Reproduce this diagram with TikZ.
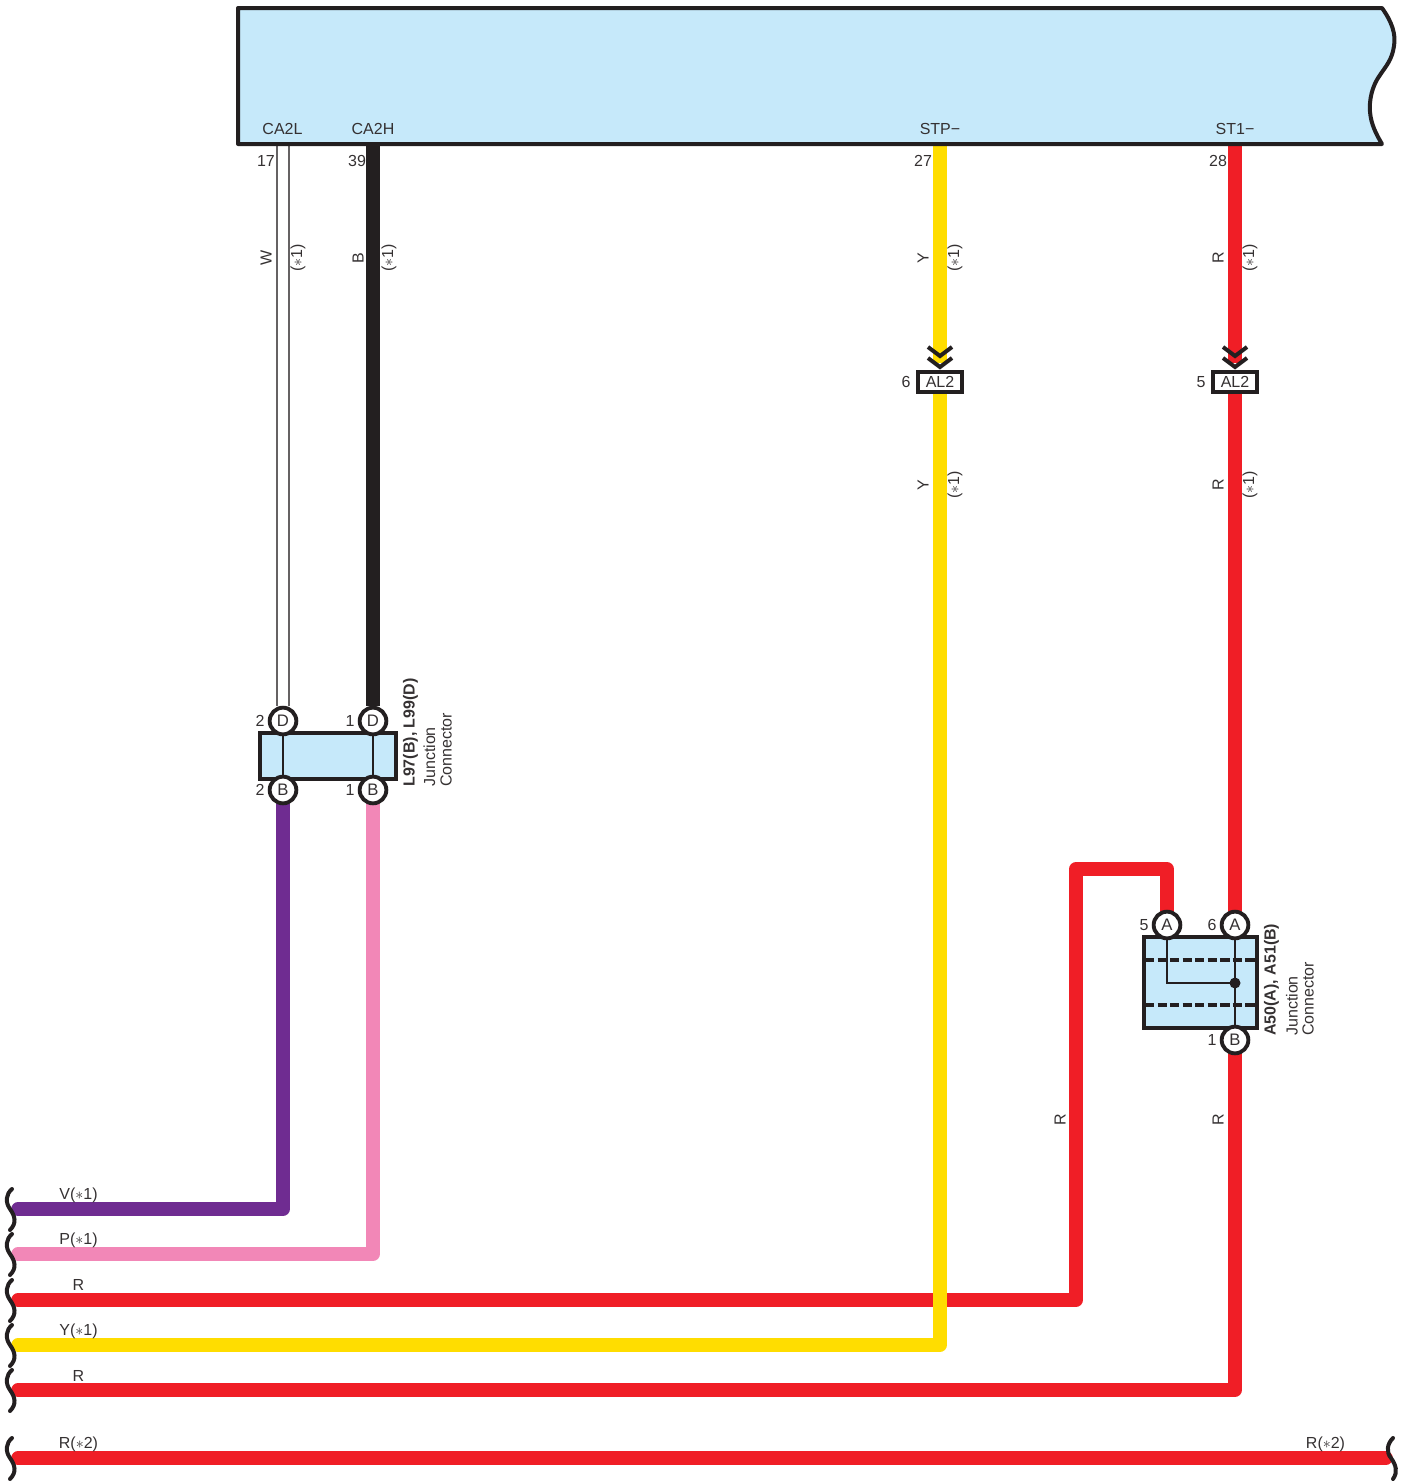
\documentclass[tikz,border=0pt]{standalone}
\usepackage{fontspec}
\setmainfont{Liberation Sans}
\usetikzlibrary{backgrounds}
\definecolor{boxblue}{HTML}{C6E9FA}
\definecolor{wirered}{HTML}{F01E26}
\definecolor{wireyellow}{HTML}{FFDD00}
\definecolor{wireblack}{HTML}{231F20}
\definecolor{wirepurple}{HTML}{6F2C91}
\definecolor{wirepink}{HTML}{F287B7}
\tikzset{
  x=0.75pt,y=-0.75pt,
  lbl/.style={inner sep=0pt,font=\fontsize{12}{12}\selectfont,text=wireblack!92},
  rotlbl/.style={lbl,rotate=90},
  pin/.style={circle,draw=wireblack,line width=2.9pt,fill=white,minimum size=20pt,inner sep=0pt,font=\fontsize{12.5}{12.5}\selectfont,text=wireblack!92},
  wire/.style={line width=10.2pt,line join=round,line cap=round},
  jbox/.style={draw=wireblack,line width=3pt,fill=boxblue,inner sep=0pt},
  thinl/.style={draw=wireblack,line width=1.8pt},
  squig/.style={draw=wireblack,line width=3pt,line cap=round},
  alnode/.style={draw=wireblack,line width=3pt,fill=white,inner sep=0pt,minimum width=33pt,minimum height=15.5pt,font=\fontsize{12}{12}\selectfont,text=wireblack!92},
  chev/.style={draw=wireblack,line width=3pt},
}
\newcommand{\sq}[1]{\draw[squig] (12,#1-20) .. controls (6,#1-15) and (5,#1-7) .. (10,#1) .. controls (15,#1+7) and (17,#1+14) .. (10,#1+21);}
\newcommand{\chevs}[1]{\draw[chev] (#1-12,347) -- (#1,356) -- (#1+12,347); \draw[chev] (#1-12,358) -- (#1,367) -- (#1+12,358);}
\begin{document}
\begin{tikzpicture}
\useasboundingbox (0,0) rectangle (1406,1482);
% main unit
\draw[jbox,line join=round] (238,8) -- (1382,8) .. controls (1392,22) and (1396,34) .. (1394,46) .. controls (1392,60) and (1386,66) .. (1380,75) .. controls (1372,86) and (1369,100) .. (1370,112) .. controls (1371,124) and (1376,134) .. (1382,144) -- (238,144) -- cycle;
\coordinate (p17a) at (277,145); \coordinate (p17b) at (289,145);
\coordinate (p39) at (373,145); \coordinate (p27) at (940,145); \coordinate (p28) at (1235,145);
\node[lbl] at (282.5,128.5) {CA2L};
\node[lbl] at (373,128.5) {CA2H};
\node[lbl] at (940,128.5) {STP\textminus};
\node[lbl] at (1235,128.5) {ST1\textminus};
\node[lbl] at (266,160.5) {17};
\node[lbl] at (357,160.5) {39};
\node[lbl] at (923,160.5) {27};
\node[lbl] at (1218,160.5) {28};
% junction L97/L99
\node[jbox,minimum width=102pt,minimum height=34.5pt] (jl) at (328,756) {};
\node[pin] (ld2) at (283,721) {D};
\node[pin] (ld1) at (373,721) {D};
\node[pin] (lb2) at (283,790) {B};
\node[pin] (lb1) at (373,790) {B};
\draw[thinl] (ld2) -- (lb2);
\draw[thinl] (ld1) -- (lb1);
\node[lbl] at (260,721) {2};
\node[lbl] at (350,721) {1};
\node[lbl] at (260,790) {2};
\node[lbl] at (350,790) {1};
\node[rotlbl,anchor=west,font=\fontsize{12}{12}\selectfont\bfseries] at (410.5,787) {L97(B), L99(D)};
\node[rotlbl,anchor=west] at (429.5,787) {Junction};
\node[rotlbl,anchor=west] at (446,787) {Connector};
% junction A50/A51
\node[jbox,minimum width=84.5pt,minimum height=68pt] (ja) at (1200.5,982.5) {};
\node[pin] (aa5) at (1167,925) {A};
\node[pin] (aa6) at (1235,925) {A};
\node[pin] (ab1) at (1235,1040) {B};
\coordinate (dl1) at (1145,960); \coordinate (dr1) at (1256,960);
\coordinate (dl2) at (1145,1005); \coordinate (dr2) at (1256,1005);
\draw[wireblack,line width=2.3pt,dash pattern=on 7pt off 2.4pt] (dl1) -- (dr1);
\draw[wireblack,line width=2.3pt,dash pattern=on 7pt off 2.4pt] (dl2) -- (dr2);
\coordinate (jdot) at (1235,983);
\draw[thinl] (aa6) -- (ab1);
\draw[thinl] (aa5) |- (jdot);
\fill[wireblack] (jdot) circle (5.5);
\node[lbl] at (1144,925) {5};
\node[lbl] at (1212,925) {6};
\node[lbl] at (1212,1040) {1};
\node[rotlbl,anchor=west,font=\fontsize{12}{12}\selectfont\bfseries] at (1271.5,1036) {A50(A), A51(B)};
\node[rotlbl,anchor=west] at (1292,1036) {Junction};
\node[rotlbl,anchor=west] at (1308,1036) {Connector};
% AL2 connectors
\node[alnode] (al6) at (940,382) {AL2};
\node[alnode] (al5) at (1235,382) {AL2};
\node[lbl] at (906,382) {6};
\node[lbl] at (1201,382) {5};
% free ends
\coordinate (eV) at (18,1209); \coordinate (eP) at (18,1254);
\coordinate (eR) at (18,1300); \coordinate (eY) at (18,1345);
\coordinate (eS) at (18,1390); \coordinate (eT) at (18,1458);
\coordinate (eU) at (1386,1458);
\coordinate (tR) at (1076,869);
\begin{scope}[on background layer]
\draw[draw=wireblack!70,line width=0.9pt] (p17a) -- (ld2.north -| p17a);
\draw[draw=wireblack!70,line width=0.9pt] (p17b) -- (ld2.north -| p17b);
\draw[wire,wireblack,line cap=butt] (p39) -- (ld1);
\draw[wire,wireyellow,line cap=butt,shorten >=5pt] (p27) -- (al6);
\draw[wire,wirered,line cap=butt,shorten >=5pt] (p28) -- (al5);
\draw[wire,wirepurple] (lb2) |- (eV);
\draw[wire,wirepink] (lb1) |- (eP);
\draw[wire,wirered] (aa5) |- (tR) -- (tR |- eR) -- (eR);
\draw[wire,wireyellow] (al6) |- (eY);
\draw[wire,wirered] (al5) -- (aa6);
\draw[wire,wirered] (ab1) |- (eS);
\draw[wire,wirered] (eT) -- (eU);
\end{scope}
\chevs{940}
\chevs{1235}
% wire labels
\foreach \x/\t in {266/W,358/B,923/Y,1218/R}{\node[rotlbl] at (\x,258) {\t};}
\foreach \x/\t in {923/Y,1218/R}{\node[rotlbl] at (\x,485) {\t};}
\node[rotlbl] at (1060,1120) {R};
\node[rotlbl] at (1218,1120) {R};
\foreach \x in {298,389,955,1250}{\node[rotlbl] at (\x,258) {($\ast$1)};}
\foreach \x in {955,1250}{\node[rotlbl] at (\x,485) {($\ast$1)};}
\node[lbl] at (78.5,1195) {V($\ast$1)};
\node[lbl] at (78.5,1240) {P($\ast$1)};
\node[lbl] at (78.5,1285) {R};
\node[lbl] at (78.5,1331) {Y($\ast$1)};
\node[lbl] at (78.5,1376) {R};
\node[lbl] at (78.5,1444) {R($\ast$2)};
\node[lbl] at (1325.5,1444) {R($\ast$2)};
% break marks
\sq{1209}\sq{1254}\sq{1300}\sq{1345}\sq{1390}\sq{1458}
\draw[squig] (1393,1438) .. controls (1387,1444) and (1386,1452) .. (1391,1458) .. controls (1396,1465) and (1398,1472) .. (1393,1479);
\end{tikzpicture}
\end{document}
